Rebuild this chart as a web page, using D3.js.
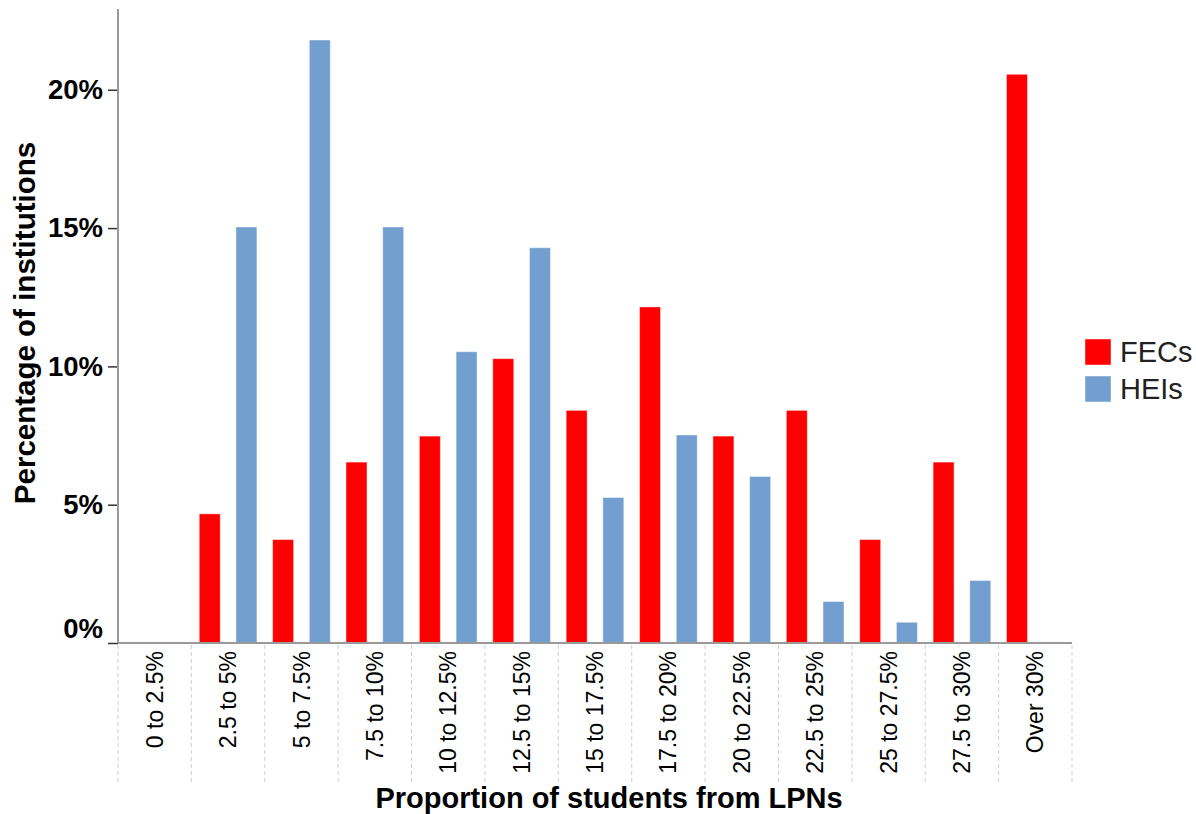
<!DOCTYPE html>
<html>
<head>
<meta charset="utf-8">
<script src="https://cdn.jsdelivr.net/npm/d3@7"></script>
<style>
  html, body { margin: 0; padding: 0; background: #fff; }
  svg { display: block; font-family: "Liberation Sans", Arial, sans-serif; }
</style>
</head>
<body>
<svg id="chart" width="1196" height="814"></svg>
<script>
const categories = ["0 to 2.5%", "2.5 to 5%", "5 to 7.5%", "7.5 to 10%", "10 to 12.5%", "12.5 to 15%",
  "15 to 17.5%", "17.5 to 20%", "20 to 22.5%", "22.5 to 25%", "25 to 27.5%", "27.5 to 30%", "Over 30%"];
const seriesNames = ["FECs", "HEIs"];
const fecValues = [0, 4.67, 3.74, 6.54, 7.48, 10.28, 8.41, 12.15, 7.48, 8.41, 3.74, 6.54, 20.56];
const heiValues = [0, 15.04, 21.80, 15.04, 10.53, 14.29, 5.26, 7.52, 6.02, 1.50, 0.75, 2.26, 0];
const yTicks = [0, 5, 10, 15, 20];
const colors = ["#ff0000", "#729fcf"];

(function () {
const svg = d3.select("#chart");
const pLeft = 118, pRight = 1072, pTop = 9, pBottom = 643;

const x = d3.scaleBand().domain(categories).range([pLeft, pRight]).padding(0);
const xi = d3.scaleBand().domain(seriesNames).range([0, x.bandwidth()]).paddingInner(0.428).paddingOuter(0.214);
const y = d3.scaleLinear().domain([0, 22.92]).range([pBottom, pTop]);
const color = d3.scaleOrdinal().domain(seriesNames).range(colors);

const rows = categories.map((c, i) => ({ cat: c, vals: [
  { s: "FECs", v: fecValues[i] }, { s: "HEIs", v: heiValues[i] } ] }));

// dashed separators below x axis
const bounds = categories.map(c => x(c)).concat([pRight]);
svg.append("g").selectAll("line").data(bounds).join("line")
  .attr("x1", d => d).attr("x2", d => d)
  .attr("y1", pBottom + 2).attr("y2", 783)
  .attr("stroke", "#cfcfcf").attr("stroke-width", 1).attr("stroke-dasharray", "4,3");

// bars
const g = svg.append("g");
g.selectAll("g").data(rows).join("g")
  .attr("transform", d => `translate(${x(d.cat)},0)`)
  .selectAll("rect").data(d => d.vals.filter(e => e.v > 0)).join("rect")
  .attr("x", d => xi(d.s))
  .attr("width", xi.bandwidth())
  .attr("y", d => y(d.v))
  .attr("height", d => y(0) - y(d.v))
  .attr("fill", d => color(d.s))
  .attr("stroke", "#ffffff").attr("stroke-opacity", 0.45).attr("stroke-width", 1);

// y axis
const yAxis = svg.append("g").attr("transform", `translate(${pLeft},0)`)
  .call(d3.axisLeft(y).tickValues(yTicks).tickFormat(d => d + "%").tickSize(10).tickPadding(5));
yAxis.select(".domain").remove();
yAxis.append("line").attr("x1", 0).attr("x2", 0).attr("y1", pTop).attr("y2", pBottom)
  .attr("stroke", "#999").attr("stroke-width", 2);
yAxis.selectAll(".tick line").attr("stroke", "#333").attr("stroke-width", 1.5);
yAxis.selectAll(".tick text").attr("font-size", 27.5).attr("font-weight", "bold").attr("fill", "#000")
  .attr("font-family", "Liberation Sans, Arial, sans-serif")
  .attr("dy", d => d === 0 ? "-0.2em" : "0.32em");

// x axis
const xAxis = svg.append("g").attr("transform", `translate(0,${pBottom})`)
  .call(d3.axisBottom(x).tickSize(0).tickPadding(0));
xAxis.select(".domain").remove();
xAxis.append("line").attr("x1", pLeft).attr("x2", pRight).attr("y1", 0).attr("y2", 0)
  .attr("stroke", "#999").attr("stroke-width", 2);
xAxis.selectAll(".tick text")
  .attr("transform", "rotate(-90)")
  .attr("text-anchor", "end")
  .attr("x", -8).attr("y", 0).attr("dy", "0.35em")
  .attr("font-size", 23).attr("fill", "#000")
  .attr("font-family", "Liberation Sans, Arial, sans-serif");

// axis titles
svg.append("text")
  .attr("transform", `translate(35,${(pTop + pBottom) / 2 - 3}) rotate(-90)`)
  .attr("text-anchor", "middle")
  .attr("font-size", 29.5).attr("font-weight", "bold").attr("fill", "#000")
  .text("Percentage of institutions");
svg.append("text")
  .attr("x", (pLeft + pRight) / 2 + 14).attr("y", 808)
  .attr("text-anchor", "middle")
  .attr("font-size", 29).attr("font-weight", "bold").attr("fill", "#000")
  .text("Proportion of students from LPNs");

// legend
const legend = svg.append("g").attr("transform", "translate(1085,339)");
const li = legend.selectAll("g").data(seriesNames).join("g")
  .attr("transform", (d, i) => `translate(0,${i * 37})`);
li.append("rect").attr("width", 26).attr("height", 26).attr("fill", d => color(d))
  .attr("stroke", "#fff").attr("stroke-opacity", 0.45);
li.append("text").attr("x", 35).attr("y", 13).attr("dy", "0.36em")
  .attr("font-size", 29).attr("fill", "#222").text(d => d);
})();
</script>
</body>
</html>
